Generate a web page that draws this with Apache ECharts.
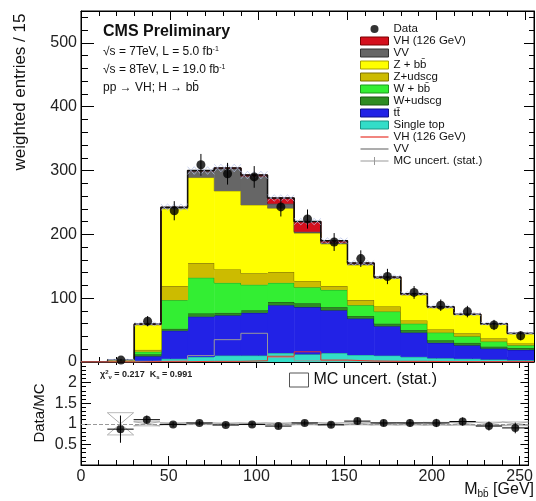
<!DOCTYPE html>
<html><head><meta charset="utf-8">
<script src="https://cdn.jsdelivr.net/npm/echarts@6/dist/echarts.min.js"></script>
<style>html,body{margin:0;padding:0;background:#fff}#c{width:536px;height:501px}</style>
</head><body><div id="c"></div>
<script>
// ---- data ----
const binLow   = [0,15,30,45,60,75,90,105,120,135,150,165,180,195,210,225,240];
const binWidth = 15;
const singleTop = [0,0,2,5,8,10,10,14,12,14,11,10,8,6,5,4,3];
const ttbar     = [0,0.3,7,44,63,63,67,75,74,67,57,46,38,24,21,17,16];
const wUdscg    = [0,0.2,3,3,5,4,4,5,6,5,4,4,4,4,4,3,3];
const wBB       = [0,0.3,4,45,56,47,40,30,25,27,17,19,10,12,10,8,4];
const zUdscg    = [0,0.2,3,22,23,21,18,17,10,6,8,8,5,5,5,5,3];
const zBB       = [0,2.5,39,121,134,123,107,100,75,66,55,44,40,34,29,22,15];
const vv        = [0,0,1,2,10,35,45,7,2,2,1.5,1,1,1,0.5,0.5,0.5];
const vh        = [0,0,0.5,0.5,1,1,2,9,16,3,1.5,1,1,0.5,0.5,0.5,0.5];
const dataVals  = [null,3,64,237,309,295,290,243,224,188,162,134,109,89,79,58,41];
const dataErr   = [null,2,8,15,17,17,17,15,15,14,13,12,10,9,9,8,7];
const mcUnc     = [0,0.8,3,5,6,6,6,5,5,4.5,4,3.5,3,3,2.5,2.5,2];
const ratioVals = [null,0.87,1.10,0.985,1.02,0.97,0.985,0.945,1.02,0.975,1.065,1.02,1.02,1.02,1.055,0.945,0.90];
const ratioErr  = [null,0.33,0.10,0.06,0.05,0.05,0.05,0.06,0.06,0.07,0.08,0.08,0.09,0.10,0.10,0.11,0.13];
const ratioUnc  = [null,0.27,0.05,0.025,0.02,0.02,0.02,0.02,0.025,0.025,0.025,0.03,0.03,0.035,0.035,0.04,0.045];
const xRange = [0,255], xMajor = 50, xMinor = 10;
const yMainRange = [0,550], yMainMajor = 100, yMainMinor = 20;
const yRatioRange = [0,2.5], yRatioMajor = 0.5, yRatioMinor = 0.1;

const FONT = 'Liberation Sans, Arial, Helvetica, sans-serif';
const chart = echarts.init(document.getElementById('c'), null, {renderer:'canvas'});

const layers = [
  {name:'Single top', vals:singleTop, color:'#33ddc8', line:'#1a9484'},
  {name:'t' + 't\u0304', vals:ttbar, color:'#2222e6', line:'#10108a'},
  {name:'W+udscg', vals:wUdscg, color:'#2e8b22', line:'#1a5512'},
  {name:'W + b' + 'b\u0304', vals:wBB, color:'#33ee33', line:'#1c9a1c'},
  {name:'Z+udscg', vals:zUdscg, color:'#ccbb00', line:'#7d7000'},
  {name:'Z + b' + 'b\u0304', vals:zBB, color:'#ffff00', line:'#a8a000'},
  {name:'VV', vals:vv, color:'#666666', line:'#333333'},
  {name:'VH (126 GeV)', vals:vh, color:'#d40f1c', line:'#7a0000'}
];

const base = binLow.map(()=>0);
const series = [];
layers.forEach(L => {
  const rows = binLow.map((lo,i)=>{
    const b = base[i], t = b + L.vals[i];
    return [lo, lo+binWidth, b, t, 0];
  });
  rows.forEach((r,i)=>{ r[4] = i>0 ? rows[i-1][3] : r[2]; });
  binLow.forEach((lo,i)=>{ base[i] += L.vals[i]; });
  const col = L.color, lc = L.line;
  series.push({
    type:'custom', name:L.name, xAxisIndex:0, yAxisIndex:0, clip:true,
    itemStyle:{color:col}, data:rows, z:2,
    renderItem:function(params, api){
      const lo=api.value(0), hi=api.value(1), b=api.value(2), t=api.value(3), pt=api.value(4);
      if (t-b<=0 && pt<=b) return null;
      const a=api.coord([lo,b]), c=api.coord([hi,t]), p=api.coord([lo,pt]);
      const ch=[];
      if (t-b>0) ch.push({type:'rect', shape:{x:a[0], y:c[1], width:c[0]-a[0]+0.5, height:a[1]-c[1]}, style:{fill:col}});
      ch.push({type:'line', shape:{x1:a[0],y1:c[1],x2:c[0],y2:c[1]}, style:{stroke:lc,lineWidth:1}});
      ch.push({type:'line', shape:{x1:a[0],y1:p[1],x2:a[0],y2:c[1]}, style:{stroke:lc,lineWidth:1}});
      return {type:'group', children:ch};
    }
  });
});
const total = base.slice();
const stepData = arr => binLow.map((lo,i)=>[lo,arr[i]]).concat([[binLow[binLow.length-1]+binWidth, arr[arr.length-1]]]);

// MC uncertainty band (main)
series.push({
  type:'custom', name:'MC uncert. (stat.)', xAxisIndex:0, yAxisIndex:0, z:5,
  itemStyle:{color:'#b4c0e6'},
  data: binLow.map((lo,i)=>[lo, lo+binWidth, total[i]-mcUnc[i], total[i]+mcUnc[i]]),
  renderItem:function(params, api){
    const a=api.coord([api.value(0),api.value(2)]), c=api.coord([api.value(1),api.value(3)]);
    if (api.value(3)-api.value(2)<=0) return null;
    const w=c[0]-a[0], ch=[];
    for (let k=0;k<4;k++){
      const x0=a[0]+w*k/4, x1=a[0]+w*(k+1)/4;
      ch.push({type:'line', shape:{x1:x0,y1:a[1],x2:x1,y2:c[1]}, style:{stroke:'#b4c0e6',lineWidth:0.7}});
      ch.push({type:'line', shape:{x1:x0,y1:c[1],x2:x1,y2:a[1]}, style:{stroke:'#b4c0e6',lineWidth:0.7}});
    }
    return {type:'group', children:ch};
  }
});
// total outline
series.push({type:'line', name:'total', xAxisIndex:0, yAxisIndex:0, step:'end', showSymbol:false, symbol:'none',
  data:stepData(total), lineStyle:{color:'#111', width:1.5}, z:4, silent:true});
// unstacked VV and VH lines
series.push({type:'line', name:'VV\u200b', xAxisIndex:0, yAxisIndex:0, step:'end', showSymbol:false, symbol:'none',
  data:stepData(vv), lineStyle:{color:'#999', width:1}, itemStyle:{color:'#999'}, z:4});
series.push({type:'line', name:'VH (126 GeV)\u200b', xAxisIndex:0, yAxisIndex:0, step:'end', showSymbol:false, symbol:'none',
  data:stepData(vh), lineStyle:{color:'#e8342a', width:1}, itemStyle:{color:'#e8342a'}, z:4});
// data error bars
series.push({type:'custom', name:'dataErr', xAxisIndex:0, yAxisIndex:0, z:9,
  data: binLow.map((lo,i)=> dataVals[i]==null ? null : [lo+binWidth/2, dataVals[i]-dataErr[i], dataVals[i]+dataErr[i]]).filter(d=>d),
  renderItem:function(params, api){
    const a=api.coord([api.value(0),api.value(1)]), c=api.coord([api.value(0),api.value(2)]);
    return {type:'line', shape:{x1:a[0],y1:a[1],x2:c[0],y2:c[1]}, style:{stroke:'#000',lineWidth:1}};
  }});
series.push({type:'scatter', name:'Data', xAxisIndex:0, yAxisIndex:0, z:10, symbolSize:9,
  itemStyle:{color:'#000'},
  data: binLow.map((lo,i)=> dataVals[i]==null ? null : [lo+binWidth/2, dataVals[i]]).filter(d=>d)});

// ---- ratio panel ----
series.push({type:'custom', name:'MC uncert. (stat.)', xAxisIndex:4, yAxisIndex:4, z:3,
  itemStyle:{color:'#999'},
  data: binLow.map((lo,i)=> ratioUnc[i]==null ? null : [lo, lo+binWidth, 1-ratioUnc[i], 1+ratioUnc[i]]).filter(d=>d),
  renderItem:function(params, api){
    const a=api.coord([api.value(0),api.value(2)]), c=api.coord([api.value(1),api.value(3)]);
    return {type:'group', children:[
      {type:'line', shape:{x1:a[0],y1:a[1],x2:c[0],y2:c[1]}, style:{stroke:'#999',lineWidth:0.8}},
      {type:'line', shape:{x1:a[0],y1:c[1],x2:c[0],y2:a[1]}, style:{stroke:'#999',lineWidth:0.8}},
      {type:'line', shape:{x1:a[0],y1:c[1],x2:c[0],y2:c[1]}, style:{stroke:'#aaa',lineWidth:0.8}},
      {type:'line', shape:{x1:a[0],y1:a[1],x2:c[0],y2:a[1]}, style:{stroke:'#aaa',lineWidth:0.8}}
    ]};
  }});
series.push({type:'custom', name:'ratioErr', xAxisIndex:4, yAxisIndex:4, z:9,
  data: binLow.map((lo,i)=> ratioVals[i]==null ? null : [lo, lo+binWidth, ratioVals[i], ratioErr[i]]).filter(d=>d),
  renderItem:function(params, api){
    const lo=api.value(0), hi=api.value(1), v=api.value(2), e=api.value(3), m=(lo+hi)/2;
    const h1=api.coord([lo,v]), h2=api.coord([hi,v]), v1=api.coord([m,v-e]), v2=api.coord([m,v+e]);
    return {type:'group', children:[
      {type:'line', shape:{x1:h1[0],y1:h1[1],x2:h2[0],y2:h2[1]}, style:{stroke:'#000',lineWidth:1}},
      {type:'line', shape:{x1:v1[0],y1:v1[1],x2:v2[0],y2:v2[1]}, style:{stroke:'#000',lineWidth:1}}
    ]};
  }});
series.push({type:'scatter', name:'ratio', xAxisIndex:4, yAxisIndex:4, z:10, symbolSize:8,
  itemStyle:{color:'#000'},
  data: binLow.map((lo,i)=> ratioVals[i]==null ? null : [lo+binWidth/2, ratioVals[i]]).filter(d=>d),
  markLine:{silent:true, symbol:'none', label:{show:false},
    lineStyle:{type:'dashed', color:'#999', width:1}, data:[{yAxis:1}]}});

// ---- axes ----
function ax(o){
  return Object.assign({
    type:'value', min:o.range[0], max:o.range[1], interval:o.interval,
    gridIndex:o.grid, position:o.pos,
    axisLine:{show:o.line!==false, onZero:false, lineStyle:{color:'#000', width:1}},
    axisTick:{show:true, inside:true, length:o.tick, lineStyle:{color:'#000', width:1}},
    axisLabel:{show:false},
    splitLine:{show:false}
  }, o.extra||{});
}
const lblX = {axisLabel:{show:true, fontSize:16, color:'#222', margin:4, fontFamily:FONT, showMaxLabel:false,
  formatter:v=> (v%xMajor===0)?String(v):''}};
const lblYmain = {axisLabel:{show:true, fontSize:16, color:'#222', margin:4, fontFamily:FONT,
  formatter:v=> (v%yMainMajor===0)?String(v):''}};
const lblYratio = {axisLabel:{show:true, fontSize:16, color:'#222', margin:4, fontFamily:FONT,
  formatter:v=> (v>0 && v<2.4)?String(v):''}};

const xAxis = [
  ax({grid:0,pos:'bottom',range:xRange,interval:xMajor,tick:9}),
  ax({grid:0,pos:'bottom',range:xRange,interval:xMinor,tick:5,line:false}),
  ax({grid:0,pos:'top',range:xRange,interval:xMajor,tick:9}),
  ax({grid:0,pos:'top',range:xRange,interval:xMinor,tick:5,line:false}),
  ax({grid:1,pos:'bottom',range:xRange,interval:xMajor,tick:9,extra:lblX}),
  ax({grid:1,pos:'bottom',range:xRange,interval:xMinor,tick:5,line:false}),
  ax({grid:1,pos:'top',range:xRange,interval:xMajor,tick:6}),
  ax({grid:1,pos:'top',range:xRange,interval:xMinor,tick:3,line:false})
];
const yAxis = [
  ax({grid:0,pos:'left',range:yMainRange,interval:yMainMajor,tick:13,extra:lblYmain}),
  ax({grid:0,pos:'left',range:yMainRange,interval:yMainMinor,tick:7,line:false}),
  ax({grid:0,pos:'right',range:yMainRange,interval:yMainMajor,tick:10}),
  ax({grid:0,pos:'right',range:yMainRange,interval:yMainMinor,tick:5,line:false}),
  ax({grid:1,pos:'left',range:yRatioRange,interval:yRatioMajor,tick:10,extra:lblYratio}),
  ax({grid:1,pos:'left',range:yRatioRange,interval:yRatioMinor,tick:5,line:false}),
  ax({grid:1,pos:'right',range:yRatioRange,interval:yRatioMajor,tick:8}),
  ax({grid:1,pos:'right',range:yRatioRange,interval:yRatioMinor,tick:4,line:false})
];

const legendItems = [
  {name:'Data', icon:'circle', itemStyle:{color:'#000'}},
  ...layers.slice().reverse().map(L=>({name:L.name, icon:'rect', itemStyle:{color:L.color, borderColor:L.line, borderWidth:1}})),
  {name:'VH (126 GeV)\u200b', icon:'path://M0,0h28v1.2h-28z', itemStyle:{color:'#e8342a'}},
  {name:'VV\u200b', icon:'path://M0,0h28v1.2h-28z', itemStyle:{color:'#777'}},
  {name:'MC uncert. (stat.)', icon:'path://M0,3.5h28v1h-28z M13.5,0h1v8h-1z', itemStyle:{color:'#999'}}
];

const option = {
  animation:false,
  backgroundColor:'#fff',
  textStyle:{fontFamily:FONT},
  grid:[
    {left:81, top:11, width:453, height:351, show:true, borderColor:'#000', borderWidth:1, containLabel:false},
    {left:81, top:362, width:453, height:103, show:true, borderColor:'#000', borderWidth:1, containLabel:false}
  ],
  xAxis, yAxis,
  legend:[
    {left:360, top:23, orient:'vertical', itemWidth:28, itemHeight:8, itemGap:0, selectedMode:false,
     padding:0, textStyle:{fontSize:11.5, lineHeight:11.2, color:'#111', fontFamily:FONT}, data:legendItems},
    {left:289, top:372, orient:'vertical', itemWidth:19, itemHeight:14, selectedMode:false, padding:0,
     textStyle:{fontSize:16, color:'#111', fontFamily:FONT},
     data:[{name:'MC uncert. (stat.)', icon:'rect', itemStyle:{color:'rgba(255,255,255,0)', borderColor:'#555', borderWidth:1}}]}
  ],
  graphic:[
    {type:'text', x:20, y:92, rotation:Math.PI/2, style:{text:'weighted entries / 15', fontSize:17, fill:'#111', fontFamily:FONT, align:'center', verticalAlign:'middle', textAlign:'center', textVerticalAlign:'middle'}},
    {type:'text', x:40, y:413, rotation:Math.PI/2, style:{text:'Data/MC', fontSize:15, fill:'#111', fontFamily:FONT, align:'center', verticalAlign:'middle', textAlign:'center', textVerticalAlign:'middle'}},
    {type:'text', x:103, y:32, style:{text:'CMS Preliminary', fontSize:16, fontWeight:'bold', fill:'#111', fontFamily:FONT, verticalAlign:'middle', textVerticalAlign:'middle'}},
    {type:'text', x:103, y:52, style:{text:'\u221As = 7TeV, L = 5.0 fb{sup|-1}', fontSize:12, fill:'#111', fontFamily:FONT, verticalAlign:'middle', textVerticalAlign:'middle',
      rich:{sup:{fontSize:7, verticalAlign:'top', padding:[0,0,6,0], fill:'#111'}}}},
    {type:'text', x:103, y:70, style:{text:'\u221As = 8TeV, L = 19.0 fb{sup|-1}', fontSize:12, fill:'#111', fontFamily:FONT, verticalAlign:'middle', textVerticalAlign:'middle',
      rich:{sup:{fontSize:7, verticalAlign:'top', padding:[0,0,6,0], fill:'#111'}}}},
    {type:'text', x:103, y:88, style:{text:'pp \u2192 VH; H \u2192 b' + 'b\u0304', fontSize:12, fill:'#111', fontFamily:FONT, verticalAlign:'middle', textVerticalAlign:'middle'}},
    {type:'text', x:100, y:375, style:{text:'\u03C7{sup|2}{sub|\u03BD} = 0.217  K{sub|s} = 0.991', fontSize:9, fontWeight:'bold', fill:'#222', fontFamily:FONT, verticalAlign:'middle', textVerticalAlign:'middle',
      rich:{sup:{fontSize:6, fontWeight:'bold', padding:[0,0,5,0]}, sub:{fontSize:6, fontWeight:'bold', padding:[5,0,0,0]}}}},
    {type:'text', x:534, y:490, style:{text:'M{sub|b' + 'b\u0304} [GeV]', fontSize:16, fill:'#111', fontFamily:FONT, align:'right', textAlign:'right', verticalAlign:'middle', textVerticalAlign:'middle',
      rich:{sub:{fontSize:10, padding:[8,0,0,0]}}}}
  ],
  series
};
chart.setOption(option);
</script>
</body></html>
